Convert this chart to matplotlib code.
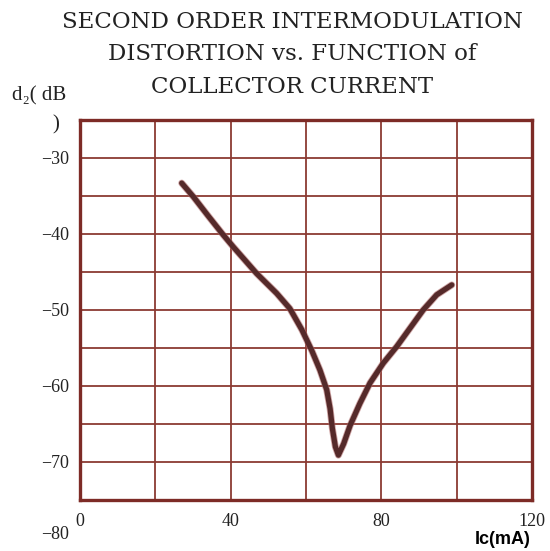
import matplotlib
matplotlib.use('Agg')
import matplotlib.pyplot as plt
import matplotlib.patheffects as pe

# 曲線データ
ic_ma = [27.0, 30.1, 34.0, 38.0, 40.7, 46.9, 52.2, 55.7, 58.9, 61.5, 63.7, 65.5, 66.4,
         67.0, 67.8, 68.6, 70.0, 71.7, 74.3, 77.0, 80.5, 84.1, 87.6, 91.1, 94.7, 98.7]
d2_db = [-33.3, -35.1, -37.6, -40.1, -41.7, -45.2, -47.8, -49.8, -52.6, -55.3, -57.9, -60.5, -63.0,
         -65.6, -68.0, -69.1, -67.6, -65.2, -62.3, -59.6, -57.0, -54.8, -52.4, -50.0, -48.0, -46.7]

x_ticks = [0, 20, 40, 60, 80, 100, 120]
x_labels = ['0', '', '40', '', '80', '', '120']
y_ticks = [-75, -70, -65, -60, -55, -50, -45, -40, -35, -30, -25]
y_labels = ['', '\u221270', '', '\u221260', '', '\u221250', '', '\u221240', '', '\u221230', '']

title_lines = ['SECOND ORDER INTERMODULATION',
               'DISTORTION vs. FUNCTION of',
               'COLLECTOR CURRENT']

grid_col = '#8b3a33'
frame_col = '#7d2b26'
line_col = '#552a2a'

fig = plt.figure(figsize=(5.5, 5.51), dpi=100)
ax = fig.add_axes([80 / 550, 51 / 551, 452 / 550, 380 / 551])

ax.plot(ic_ma, d2_db, color=line_col, lw=3.8, solid_capstyle='round',
        solid_joinstyle='round',
        path_effects=[pe.Stroke(linewidth=5.0, foreground='#b06a6a', alpha=0.6), pe.Normal()])

ax.set_xlim(0, 120)
ax.set_ylim(-75, -25)
ax.set_xticks(x_ticks)
ax.set_xticklabels(x_labels)
ax.set_yticks(y_ticks)
ax.set_yticklabels(y_labels)
ax.grid(True, color=grid_col, lw=1.3)
ax.set_axisbelow(True)
ax.tick_params(length=0, labelsize=13, colors='#222222')
ax.tick_params(axis='x', pad=9)
ax.tick_params(axis='y', pad=8)
for lab in ax.get_xticklabels() + ax.get_yticklabels():
    lab.set_family('Liberation Serif')
for s in ax.spines.values():
    s.set_color(frame_col)
    s.set_linewidth(2.4)

# 枠外の −80 ラベル
ax.text(-3.0, -79.5, '\u221280', ha='right', va='center', fontsize=13,
        family='Liberation Serif', color='#222222', clip_on=False)

# タイトル
for i, t in enumerate(title_lines):
    fig.text(292 / 550, 1 - (22 + i * 32.5) / 551, t, ha='center', va='center',
             fontsize=16.5, family='DejaVu Serif', color='#222222')

fig.text(12 / 550, 1 - 96 / 551, 'd\u2082( dB', ha='left', va='center', fontsize=15,
         family=['Liberation Serif', 'DejaVu Serif'], color='#222222')
fig.text(56 / 550, 1 - 125 / 551, ')', ha='center', va='center', fontsize=15,
         family='Liberation Serif', color='#222222')
fig.text(503 / 550, 1 - 540 / 551, 'Ic(mA)', ha='center', va='center', fontsize=13,
         family='Liberation Sans', weight='bold', color='black')

fig.savefig('out.png', dpi=100)
